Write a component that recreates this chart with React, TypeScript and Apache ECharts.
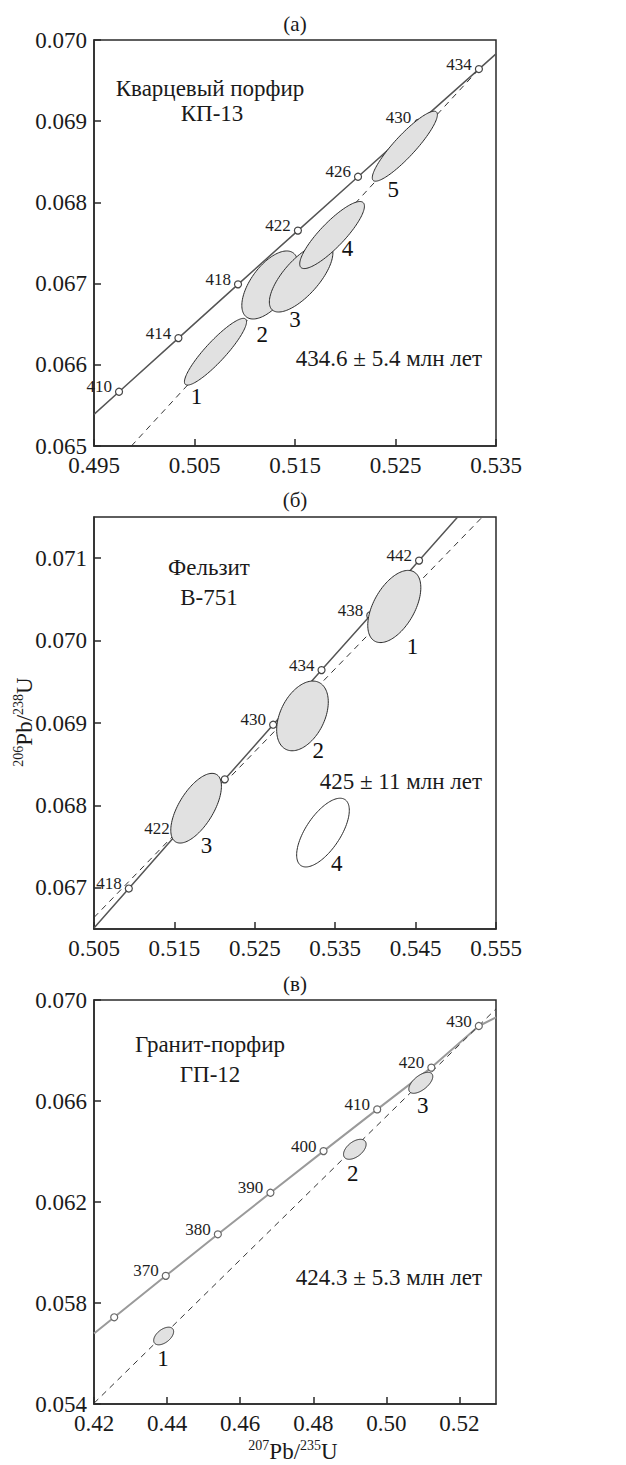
import React, { useEffect, useRef } from "react";
import * as echarts from "echarts";

const SERIF = "Liberation Serif, serif";

// ---------- Panel (а): Кварцевый порфир КП-13 ----------
const agesA = ["410", "414", "418", "422", "426", "430", "434"];
const concXA = [0.49749, 0.5034, 0.50933, 0.51529, 0.52127, 0.52728, 0.5333];
const concYA = [0.065668, 0.066329, 0.066991, 0.067653, 0.068316, 0.068979, 0.069642];
const concEndsXA = [0.495, 0.535];
const concEndsYA = [0.065389, 0.069829];
const discXA = [0.49872, 0.5333];
const discYA = [0.065, 0.06964];
const ellCxA = [0.50709, 0.5125, 0.51561, 0.51869, 0.52593];
const ellCyA = [0.066161, 0.066983, 0.067075, 0.067598, 0.068692];
const ellSxA = [0.00309, 0.00279, 0.00316, 0.00322, 0.00324];
const ellSyA = [0.000411, 0.000419, 0.000425, 0.000413, 0.000431];
const ellRhoA = [0.9, 0.6, 0.71, 0.86, 0.9];
const ellNumA = ["1", "2", "3", "4", "5"];
const ellNumXA = [0.5052, 0.51173, 0.51499, 0.52022, 0.52478];
const ellNumYA = [0.065607, 0.066367, 0.066552, 0.067438, 0.068153];

// ---------- Panel (б): Фельзит В-751 ----------
const agesB = ["418", "422", "", "430", "434", "438", "442"];
const concXB = [0.50933, 0.51529, 0.52127, 0.52728, 0.5333, 0.53936, 0.54543];
const concYB = [0.066991, 0.067653, 0.068316, 0.068979, 0.069642, 0.070306, 0.070971];
const concEndsXB = [0.505, 0.55023];
const concEndsYB = [0.066513, 0.0715];
const discXB = [0.505, 0.5533];
const discYB = [0.06664, 0.0715];
const ellCxB = [0.54235, 0.53093, 0.5177, 0.53348];
const ellCyB = [0.070414, 0.069086, 0.067966, 0.06767];
const ellSxB = [0.0033, 0.00321, 0.00315, 0.003275];
const ellSyB = [0.000438, 0.000423, 0.000423, 0.000417];
const ellRhoB = [0.52, 0.4, 0.63, 0.65];
const ellFilledB = [1, 1, 1, 0];
const ellNumB = ["1", "2", "3", "4"];
const ellNumXB = [0.5446, 0.5329, 0.519, 0.53519];
const ellNumYB = [0.069931, 0.068663, 0.067516, 0.067295];

// ---------- Panel (в): Гранит-порфир ГП-12 ----------
const agesC = ["", "370", "380", "390", "400", "410", "420", "430"];
const concXC = [0.42553, 0.43964, 0.45389, 0.46828, 0.48281, 0.49749, 0.51231, 0.5253];
const concYC = [0.057434, 0.059076, 0.06072, 0.062366, 0.064016, 0.065668, 0.067322, 0.06897];
const concEndsXC = [0.42, 0.53];
const concEndsYC = [0.05679, 0.06931];
const discXC = [0.42, 0.53];
const discYC = [0.05403, 0.06965];
const ellCxC = [0.43906, 0.49137, 0.50942];
const ellCyC = [0.056693, 0.064087, 0.066721];
const ellSxC = [0.00273, 0.00309, 0.00328];
const ellSyC = [0.000349, 0.000396, 0.000416];
const ellRhoC = [0.5, 0.5, 0.6];
const ellNumC = ["1", "2", "3"];
const ellNumXC = [0.43887, 0.49082, 0.50997];
const ellNumYC = [0.05581, 0.063137, 0.065802];

function ellipseSeries(idx: number, cx: number[], cy: number[], sx: number[], sy: number[], rho: number[], filled?: number[]) {
  return {
    type: "custom",
    xAxisIndex: idx,
    yAxisIndex: idx,
    z: 4,
    silent: true,
    data: cx.map((x, k) => [x, cy[k], sx[k], sy[k], rho[k], filled ? filled[k] : 1]),
    encode: { x: 0, y: 1 },
    renderItem: (_params: any, api: any) => {
      const x0 = api.value(0);
      const y0 = api.value(1);
      const ex = api.value(2);
      const ey = api.value(3);
      const r = api.value(4);
      const f = api.value(5);
      const q = Math.sqrt(1 - r * r);
      const pts: number[][] = [];
      const n = 120;
      for (let k = 0; k < n; k++) {
        const t = (2 * Math.PI * k) / n;
        pts.push(api.coord([x0 + ex * Math.cos(t), y0 + ey * (r * Math.cos(t) + q * Math.sin(t))]));
      }
      return {
        type: "polygon",
        shape: { points: pts },
        style: { fill: f ? "#e1e1e1" : "none", stroke: "#2a2a2a", lineWidth: 1 },
      };
    },
  };
}

function lineSeries(idx: number, xs: number[], ys: number[], color: string, width: number, dashed: boolean) {
  return {
    type: "line",
    xAxisIndex: idx,
    yAxisIndex: idx,
    z: 2,
    silent: true,
    showSymbol: false,
    symbol: "none",
    data: xs.map((x, k) => [x, ys[k]]),
    lineStyle: { color, width, type: dashed ? [6, 5] : "solid" },
  };
}

function concordiaLine(idx: number, ex: number[], ey: number[], xs: number[], ys: number[], color: string, width: number) {
  const X = [ex[0], ...xs, ex[1]];
  const Y = [ey[0], ...ys, ey[1]];
  return lineSeries(idx, X, Y, color, width, false);
}

function markerSeries(idx: number, xs: number[], ys: number[], ages: string[], stroke: string) {
  return {
    type: "scatter",
    xAxisIndex: idx,
    yAxisIndex: idx,
    z: 3,
    silent: true,
    symbol: "circle",
    symbolSize: 7,
    itemStyle: { color: "#ffffff", borderColor: stroke, borderWidth: 1.2, opacity: 1 },
    label: {
      show: true,
      position: "left",
      distance: 3,
      offset: [0, -5],
      formatter: "{b}",
      fontSize: 17,
      fontFamily: SERIF,
      color: "#1e1e1e",
    },
    data: xs.map((x, k) => ({ value: [x, ys[k]], name: ages[k] })),
  };
}

function numberSeries(idx: number, xs: number[], ys: number[], names: string[]) {
  return {
    type: "custom",
    xAxisIndex: idx,
    yAxisIndex: idx,
    z: 6,
    silent: true,
    data: xs.map((x, k) => ({ value: [x, ys[k]], name: names[k] })),
    encode: { x: 0, y: 1 },
    renderItem: (params: any, api: any) => {
      const p = api.coord([api.value(0), api.value(1)]);
      return {
        type: "text",
        x: p[0],
        y: p[1],
        style: {
          text: names[params.dataIndex],
          fontSize: 23,
          fontFamily: SERIF,
          fill: "#111111",
          align: "center",
          verticalAlign: "middle",
        },
      };
    },
  };
}

const axisBase = (gridIndex: number, digits: number) => ({
  type: "value",
  gridIndex,
  axisLine: { show: true, onZero: false, lineStyle: { color: "#2a2a2a", width: 1.5 } },
  axisTick: { show: true, inside: true, length: 7, lineStyle: { color: "#2a2a2a", width: 1.5 } },
  splitLine: { show: false },
  axisLabel: {
    color: "#1a1a1a",
    fontSize: 23,
    fontFamily: SERIF,
    margin: 8,
    showMinLabel: true,
    showMaxLabel: true,
    formatter: (v: number) => v.toFixed(digits),
  },
});

function buildOption() {
  const gridStyle = { show: true, borderColor: "#2a2a2a", borderWidth: 1.5, containLabel: false, outerBoundsMode: "none" };
  const xA: any = { ...axisBase(0, 3), min: 0.495, max: 0.535, interval: 0.01 };
  const yA: any = { ...axisBase(0, 3), min: 0.065, max: 0.07, interval: 0.001 };
  yA.axisLabel = { ...yA.axisLabel, margin: 7 };
  const xB: any = { ...axisBase(1, 3), min: 0.505, max: 0.555, interval: 0.01 };
  const yB: any = { ...axisBase(1, 3), min: 0.0665, max: 0.0715, minInterval: 0.001, maxInterval: 0.001, splitNumber: 5 };
  yB.axisLabel = { ...yB.axisLabel, margin: 7, showMinLabel: false, showMaxLabel: false };
  const xC: any = { ...axisBase(2, 2), min: 0.42, max: 0.53, interval: 0.02 };
  xC.axisLabel = { ...xC.axisLabel, showMaxLabel: false };
  const yC: any = { ...axisBase(2, 3), min: 0.054, max: 0.07, interval: 0.004 };
  yC.axisLabel = { ...yC.axisLabel, margin: 7 };

  const text = (t: string, x: number, y: number, size: number, align = "center") => ({
    type: "text",
    x,
    y,
    silent: true,
    style: { text: t, fontSize: size, fontFamily: SERIF, fill: "#1a1a1a", align, verticalAlign: "middle" },
  });

  const richStyle = {
    m: { fontSize: 23, fontFamily: SERIF, fill: "#1a1a1a", lineHeight: 26 },
    s: { fontSize: 14, fontFamily: SERIF, fill: "#1a1a1a", lineHeight: 14, verticalAlign: "top" },
  };

  return {
    animation: false,
    backgroundColor: "#ffffff",
    textStyle: { fontFamily: SERIF },
    grid: [
      { ...gridStyle, left: 94, top: 40, width: 402, height: 406 },
      { ...gridStyle, left: 94, top: 517, width: 402, height: 412 },
      { ...gridStyle, left: 94, top: 1000, width: 402, height: 404 },
    ],
    xAxis: [xA, xB, xC],
    yAxis: [yA, yB, yC],
    series: [
      // panel а
      concordiaLine(0, concEndsXA, concEndsYA, concXA, concYA, "#555555", 1.5),
      lineSeries(0, discXA, discYA, "#333333", 1, true),
      markerSeries(0, concXA, concYA, agesA, "#444444"),
      ellipseSeries(0, ellCxA, ellCyA, ellSxA, ellSyA, ellRhoA),
      numberSeries(0, ellNumXA, ellNumYA, ellNumA),
      // panel б
      concordiaLine(1, concEndsXB, concEndsYB, concXB, concYB, "#555555", 1.5),
      lineSeries(1, discXB, discYB, "#333333", 1, true),
      markerSeries(1, concXB, concYB, agesB, "#444444"),
      ellipseSeries(1, ellCxB, ellCyB, ellSxB, ellSyB, ellRhoB, ellFilledB),
      numberSeries(1, ellNumXB, ellNumYB, ellNumB),
      // panel в
      concordiaLine(2, concEndsXC, concEndsYC, concXC, concYC, "#9a9a9a", 2),
      lineSeries(2, discXC, discYC, "#333333", 1, true),
      markerSeries(2, concXC, concYC, agesC, "#666666"),
      ellipseSeries(2, ellCxC, ellCyC, ellSxC, ellSyC, ellRhoC),
      numberSeries(2, ellNumXC, ellNumYC, ellNumC),
    ],
    graphic: [
      text("(а)", 295, 24, 21),
      text("(б)", 295, 500, 21),
      text("(в)", 295, 984, 21),
      text("Кварцевый порфир", 210, 88, 23),
      text("КП-13", 212, 113, 23),
      text("Фельзит", 209, 567, 23),
      text("В-751", 209, 597, 23),
      text("Гранит-порфир", 210, 1044, 23),
      text("ГП-12", 210, 1074, 23),
      text("434.6 ± 5.4 млн лет", 482, 358, 23, "right"),
      text("425 ± 11 млн лет", 482, 781, 23, "right"),
      text("424.3 ± 5.3 млн лет", 482, 1277, 23, "right"),
      {
        type: "text",
        x: 24,
        y: 722,
        rotation: Math.PI / 2,
        silent: true,
        style: { text: "{s|206}{m|Pb/}{s|238}{m|U}", rich: richStyle, align: "center", verticalAlign: "middle", fontFamily: SERIF },
      },
      {
        type: "text",
        x: 293,
        y: 1451,
        silent: true,
        style: { text: "{s|207}{m|Pb/}{s|235}{m|U}", rich: richStyle, align: "center", verticalAlign: "middle", fontFamily: SERIF },
      },
    ],
  };
}

export default function App() {
  const ref = useRef<HTMLDivElement>(null);
  useEffect(() => {
    const el = ref.current;
    if (!el) return;
    const chart = echarts.init(el, null, { renderer: "svg" });
    chart.setOption(buildOption() as any);
    return () => {
      chart.dispose();
    };
  }, []);
  return (
    <div
      ref={ref}
      style={{ position: "fixed", left: 0, top: 0, width: 626, height: 1465, background: "#ffffff" }}
    />
  );
}
